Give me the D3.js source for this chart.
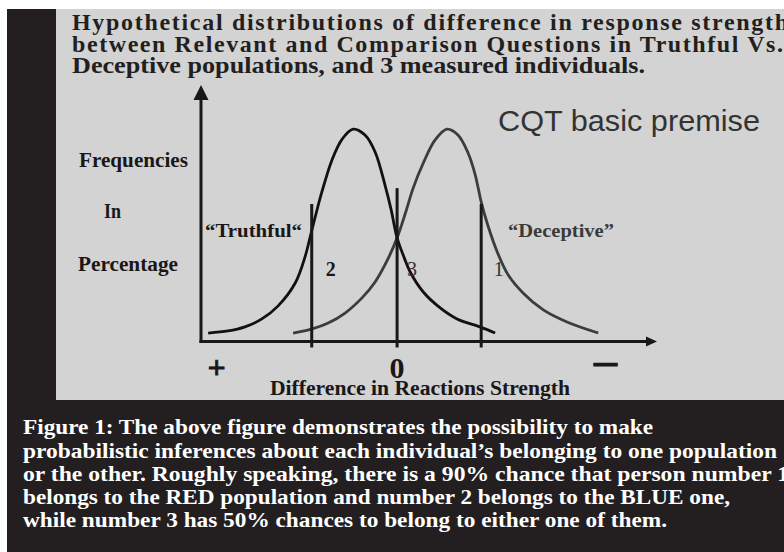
<!DOCTYPE html>
<html><head><meta charset="utf-8">
<script src="https://cdn.jsdelivr.net/npm/d3@7/dist/d3.min.js"></script>
<style>html,body{margin:0;padding:0;background:#fff;}svg{display:block;}</style>
</head><body>
<script>
// ---- data ----
const titleLines = [
  "Hypothetical distributions of difference in response strength",
  "between Relevant and Comparison Questions in Truthful Vs.",
  "Deceptive populations, and 3 measured individuals."
];
const captionLines = [
  "Figure 1: The above figure demonstrates the possibility to make",
  "probabilistic inferences about each individual\u2019s belonging to one population",
  "or the other. Roughly speaking, there is a 90% chance that person number 1",
  "belongs to the RED population and number 2 belongs to the BLUE one,",
  "while number 3 has 50% chances to belong to either one of them."
];
const yLabelLines = ["Frequencies", "In", "Percentage"];
const xAxisTitle = "Difference in Reactions  Strength";
const chartTitle = "CQT basic premise";
// x: difference (0 = no difference), y: frequency in percentage
const truthfulX = [-4.47,-4.00,-3.60,-3.20,-2.82,-2.41,-2.18,-2.04,-1.92,-1.78,-1.54,-1.30,-1.04,-0.76,-0.52,-0.28,-0.14,0.00,0.17,0.31,0.62,1.02,1.42,1.96,2.32];
const truthfulY = [3.3,4.1,5.7,8.8,13.8,22.8,32.9,41.9,49.7,58.3,70.8,78.9,82.8,80.5,73.9,60.6,51.3,40.4,32.6,27.1,19.3,13.1,8.8,5.7,3.3];
const deceptiveX = [-2.46,-2.01,-1.63,-1.23,-0.83,-0.52,-0.24,0.00,0.19,0.38,0.62,0.90,1.18,1.44,1.68,1.85,1.99,2.13,2.37,2.63,2.98,3.46,4.02,4.76];
const deceptiveY = [3.3,4.9,7.2,11.1,17.0,23.2,31.4,40.4,49.7,59.8,69.6,78.6,82.8,80.5,73.5,64.9,54.4,46.2,34.9,25.9,18.9,12.3,7.6,3.3];
const populationLabels = ["\u201CTruthful\u201C", "\u201CDeceptive\u201D"];
const individualIds = ["2", "3", "1"];
const individualX = [-2.02, 0.00, 1.99];
const individualTop = [53.6, 59.8, 53.6];
const xTickLabels = ["+", "0", "\u2014"];
const xTickValues = [-4.27, 0.00, 4.93];

// ---- drawing ----
const W = 784, H = 552;
const svg = d3.select("body").append("svg").attr("width", W).attr("height", H);
const ink = "#1a1718", dark = "#231f20", panel = "#d2d3d2";

svg.append("rect").attr("width", W).attr("height", H).attr("fill", "#fff");
svg.append("rect").attr("x", 7).attr("y", 9).attr("width", W - 7).attr("height", H - 9).attr("fill", dark);
svg.append("rect").attr("x", 56).attr("y", 9).attr("width", W - 56).attr("height", 391).attr("fill", panel);

const serif = "'Liberation Serif','Times New Roman',serif";
const sans = "'Liberation Sans',Arial,sans-serif";

// title
const titleBase = [29.5, 51.5, 73];
const titleLen = [716, 711, 573];
svg.append("g").selectAll("text").data(titleLines).join("text")
  .attr("x", 72).attr("y", (d, i) => titleBase[i])
  .attr("textLength", (d, i) => titleLen[i])
  .attr("lengthAdjust", (d, i) => i < 2 ? "spacing" : "spacingAndGlyphs")
  .attr("font-family", serif).attr("font-weight", "bold").attr("font-size", 24)
  .attr("fill", dark).text(d => d);

// caption
const capBase = [434, 458, 481, 504, 527];
const capLen = [630, 754, 766, 707, 644];
svg.append("g").selectAll("text").data(captionLines).join("text")
  .attr("x", 23).attr("y", (d, i) => capBase[i])
  .attr("textLength", (d, i) => capLen[i]).attr("lengthAdjust", "spacingAndGlyphs")
  .attr("font-family", serif).attr("font-weight", "bold").attr("font-size", 21.5)
  .attr("fill", "#fff").text(d => d);

// scales
const x = d3.scaleLinear().domain([-4.64, 6.15]).range([201, 657]);
const y = d3.scaleLinear().domain([0, 100]).range([341.5, 85]);

// axes
const x0 = x.range()[0], y0 = y(0);
svg.append("line").attr("x1", x0).attr("x2", x0).attr("y1", y0 + 1.5).attr("y2", y(100) + 14)
  .attr("stroke", ink).attr("stroke-width", 3);
svg.append("path").attr("d", `M${x0},${y(100)}L${x0 - 7.5},${y(100) + 15}L${x0 + 7.5},${y(100) + 15}Z`).attr("fill", ink);
svg.append("line").attr("x1", x0 - 1.5).attr("x2", x.range()[1] - 10).attr("y1", y0).attr("y2", y0)
  .attr("stroke", ink).attr("stroke-width", 3);
svg.append("path").attr("d", `M${x.range()[1]},${y0}L${x.range()[1] - 11},${y0 - 5}L${x.range()[1] - 11},${y0 + 5}Z`).attr("fill", ink);

// curves
const line = d3.line().x(d => x(d[0])).y(d => y(d[1])).curve(d3.curveCatmullRom.alpha(0.5));
svg.append("path").attr("d", line(deceptiveX.map((v, i) => [v, deceptiveY[i]])))
  .attr("fill", "none").attr("stroke", "#3c3c3c").attr("stroke-width", 2.8);
svg.append("path").attr("d", line(truthfulX.map((v, i) => [v, truthfulY[i]])))
  .attr("fill", "none").attr("stroke", "#111").attr("stroke-width", 2.8);

// individuals
svg.append("g").selectAll("line").data(individualX).join("line")
  .attr("x1", d => x(d)).attr("x2", d => x(d))
  .attr("y1", (d, i) => y(individualTop[i])).attr("y2", y(0) + 6)
  .attr("stroke", ink).attr("stroke-width", 3);
svg.append("g").selectAll("text").data(individualIds).join("text")
  .attr("x", (d, i) => x(individualX[i]) + [19, 15, 17.5][i]).attr("y", 276)
  .attr("text-anchor", "middle").attr("font-family", serif)
  .attr("font-weight", (d, i) => i === 0 ? "bold" : "normal").attr("font-size", 20)
  .attr("fill", (d, i) => i === 0 ? ink : "#333").text(d => d);

// population labels
svg.append("text").attr("x", 205).attr("y", 236.5).attr("textLength", 97).attr("lengthAdjust", "spacingAndGlyphs")
  .attr("font-family", serif).attr("font-weight", "bold").attr("font-size", 19).attr("fill", ink).text(populationLabels[0]);
svg.append("text").attr("x", 508).attr("y", 236.5).attr("textLength", 106).attr("lengthAdjust", "spacingAndGlyphs")
  .attr("font-family", serif).attr("font-weight", "bold").attr("font-size", 19).attr("fill", "#3a3a3a").text(populationLabels[1]);

// y label
const yLabX = [133.5, 112.5, 128];
const yLabBase = [166.5, 218, 270.5];
const yLabLen = [109, 17, 100];
svg.append("g").selectAll("text").data(yLabelLines).join("text")
  .attr("x", (d, i) => yLabX[i]).attr("y", (d, i) => yLabBase[i]).attr("text-anchor", "middle")
  .attr("textLength", (d, i) => yLabLen[i]).attr("lengthAdjust", "spacingAndGlyphs")
  .attr("font-family", serif).attr("font-weight", "bold").attr("font-size", 20).attr("fill", ink).text(d => d);

// x tick labels
svg.append("g").selectAll("text").data(xTickLabels).join("text")
  .attr("x", (d, i) => x(xTickValues[i])).attr("y", (d, i) => [378, 378, 370][i])
  .attr("text-anchor", "middle").attr("font-family", serif).attr("font-weight", "bold")
  .attr("font-size", (d, i) => [32, 30, 22][i])
  .attr("stroke", ink).attr("stroke-width", (d, i) => [0.8, 0, 2.2][i])
  .attr("fill", ink).text(d => d);

// x title
svg.append("text").attr("x", 270).attr("y", 395).attr("textLength", 300).attr("lengthAdjust", "spacingAndGlyphs")
  .attr("font-family", serif).attr("font-weight", "bold").attr("font-size", 20).attr("fill", ink).text(xAxisTitle);

// chart title
svg.append("text").attr("x", 498).attr("y", 131).attr("textLength", 262).attr("lengthAdjust", "spacingAndGlyphs")
  .attr("font-family", sans).attr("font-size", 29).attr("fill", "#333").text(chartTitle);
</script>
</body></html>
